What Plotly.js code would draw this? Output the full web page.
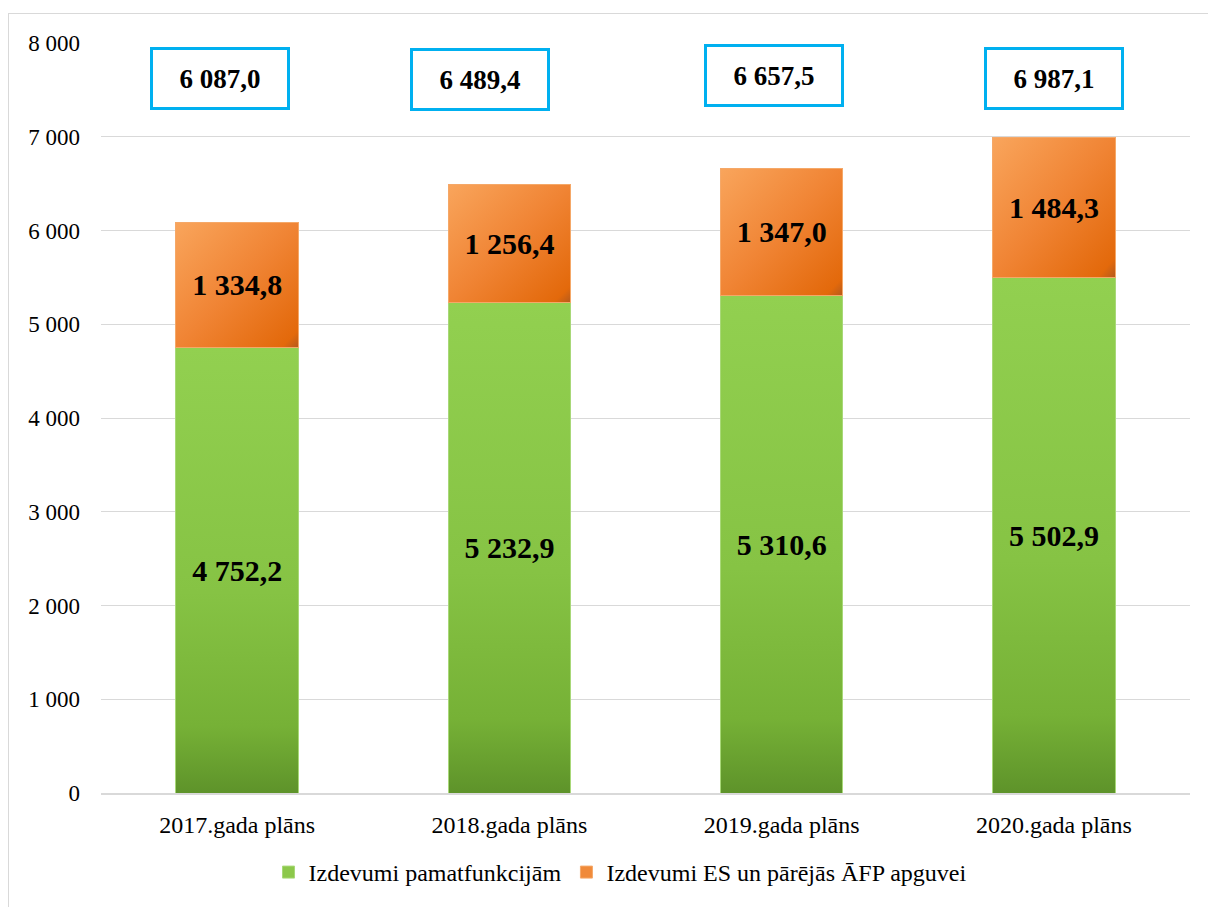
<!DOCTYPE html>
<html>
<head>
<meta charset="utf-8">
<script src="https://cdn.plot.ly/plotly-3.0.1.min.js"></script>
<style>
  html, body { margin: 0; padding: 0; background: #fff; }
  #frame { position: absolute; left: 8px; top: 13px; width: 1220px; height: 920px; border: 1px solid #D9D9D9; box-sizing: border-box; }
  #chart { position: absolute; left: 0; top: 0; width: 1208px; height: 907px; }
</style>
</head>
<body>
<div id="frame"></div>
<div id="chart"></div>
<script>
const categories = ["2017.gada plāns", "2018.gada plāns", "2019.gada plāns", "2020.gada plāns"];
const basicFunctions = [4752.2, 5232.9, 5310.6, 5502.9];
const euFunds = [1334.8, 1256.4, 1347.0, 1484.3];
const totals = [6087.0, 6489.4, 6657.5, 6987.1];
const seriesNames = ["Izdevumi pamatfunkcijām", "Izdevumi ES un pārējās ĀFP apguvei"];
const yTicks = [0, 1000, 2000, 3000, 4000, 5000, 6000, 7000, 8000];

const boxXShift = [-17, -29, -8, 0];
const boxYShift = [0, -1, 3, 0];

function fmt(v) {
  const parts = v.toFixed(1).split(".");
  const intPart = parts[0].replace(/\B(?=(\d{3})+(?!\d))/g, " ");
  return intPart + "," + parts[1];
}

const serif = "Liberation Serif";

const traces = [
  {
    type: "bar", name: seriesNames[0], x: categories, y: basicFunctions,
    marker: { color: "#8CC84B", line: { color: "#A8D878", width: 1 } },
    texttemplate: "%{y:,.1f}", textposition: "inside", insidetextanchor: "middle",
    constraintext: "none",
    textfont: { family: serif, size: 30, color: "#000", weight: "bold" },
    hoverinfo: "skip"
  },
  {
    type: "bar", name: seriesNames[1], x: categories, y: euFunds,
    marker: { color: "#F08A3A", line: { color: "#F5A868", width: 1 } },
    texttemplate: "%{y:,.1f}", textposition: "inside", insidetextanchor: "middle",
    constraintext: "none",
    textfont: { family: serif, size: 30, color: "#000", weight: "bold" },
    hoverinfo: "skip"
  }
];

const annotations = categories.map((c, i) => ({
  x: c, y: 7620, xref: "x", yref: "y",
  text: "<b>" + fmt(totals[i]) + "</b>",
  showarrow: false,
  font: { family: serif, size: 27, color: "#000" },
  bgcolor: "#fff", bordercolor: "#00B0F0", borderwidth: 3, borderpad: 0,
  width: 134, height: 57,
  xshift: boxXShift[i], yshift: boxYShift[i]
}));

const layout = {
  width: 1208, height: 907,
  margin: { l: 101, r: 18, t: 43, b: 110 },
  paper_bgcolor: "rgba(0,0,0,0)", plot_bgcolor: "rgba(0,0,0,0)",
  barmode: "stack", bargap: 0.55,
  separators: ", ",
  font: { family: serif, size: 23, color: "#000" },
  showlegend: true,
  legend: {
    orientation: "h", x: 0.4766, xanchor: "center", y: -0.106, yanchor: "middle",
    font: { family: serif, size: 24, color: "#000" }, traceorder: "normal",
    itemwidth: 30
  },
  xaxis: {
    type: "category", showgrid: false, showline: true, linecolor: "#D9D9D9", linewidth: 2,
    ticks: "", tickfont: { family: serif, size: 24, color: "#000" }, ticklabelstandoff: 9,
    tickangle: 0, automargin: false, fixedrange: true
  },
  yaxis: {
    range: [0, 8000], tickvals: yTicks, tickformat: ",.0f", separatethousands: true,
    showgrid: true, gridcolor: "#D9D9D9", gridwidth: 1, zeroline: false,
    showline: false, ticks: "", tickfont: { family: serif, size: 23, color: "#000" },
    ticklabelstandoff: 20, automargin: false, fixedrange: true
  },
  annotations: annotations
};

Plotly.newPlot("chart", traces, layout, { staticPlot: true, displayModeBar: false }).then(gd => {
  const svg = gd.querySelector(".main-svg");
  const ns = "http://www.w3.org/2000/svg";
  const defs = document.createElementNS(ns, "defs");
  defs.innerHTML =
    '<linearGradient id="gGreen" x1="0" y1="0" x2="0" y2="1">' +
      '<stop offset="0" stop-color="#92D050"/>' +
      '<stop offset="0.55" stop-color="#86C344"/>' +
      '<stop offset="0.85" stop-color="#76B136"/>' +
      '<stop offset="1" stop-color="#5E932A"/>' +
    '</linearGradient>' +
    '<linearGradient id="gOrange" x1="0" y1="0" x2="1" y2="1">' +
      '<stop offset="0" stop-color="#F9A55C"/>' +
      '<stop offset="0.5" stop-color="#F08434"/>' +
      '<stop offset="0.93" stop-color="#E3690B"/>' +
      '<stop offset="1" stop-color="#B55A1C"/>' +
    '</linearGradient>';
  svg.insertBefore(defs, svg.firstChild);
  const traceGroups = gd.querySelectorAll(".barlayer .trace");
  const ids = ["gGreen", "gOrange"];
  traceGroups.forEach((g, i) => {
    g.querySelectorAll(".point path").forEach(p => { p.style.fill = "url(#" + ids[i] + ")"; });
  });
});
</script>
</body>
</html>
